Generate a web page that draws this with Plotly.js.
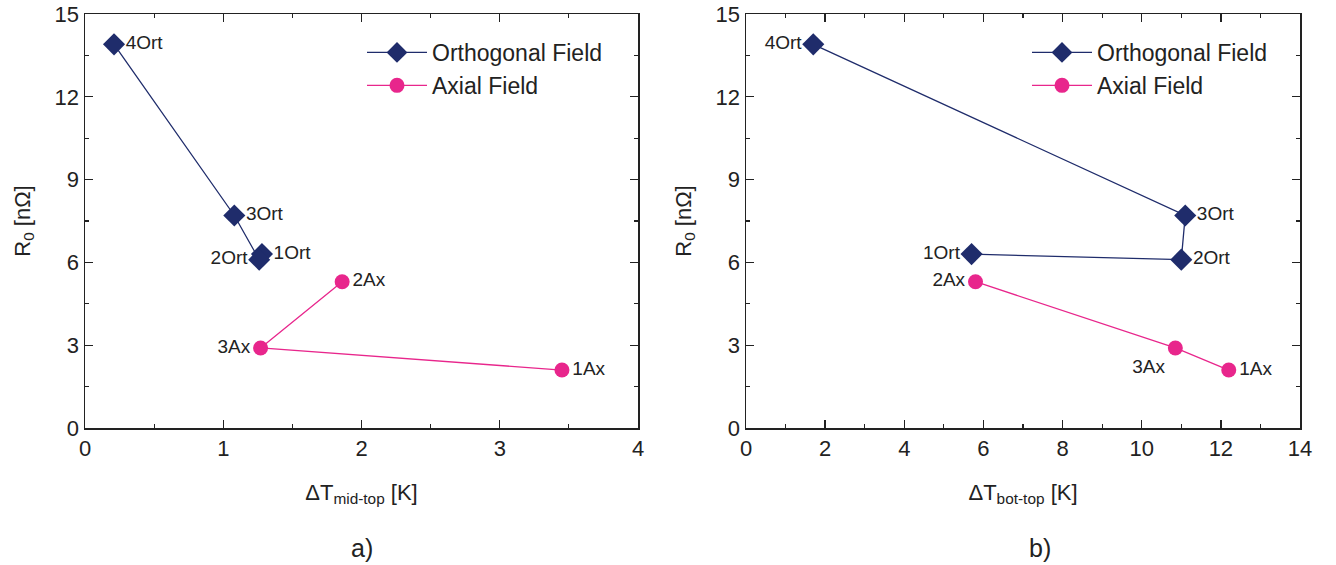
<!DOCTYPE html>
<html><head><meta charset="utf-8">
<script src="https://cdn.plot.ly/plotly-3.0.1.min.js"></script>
<style>body{margin:0;background:#fff}#c{width:1336px;height:565px}</style>
</head><body><div id="c"></div>
<script>
// Panel a) ΔT mid-top
const ortLabels = ['1Ort','2Ort','3Ort','4Ort'];
const ortXa = [1.28, 1.26, 1.08, 0.21];
const ortY  = [6.3, 6.1, 7.7, 13.9];
const axLabels = ['1Ax','3Ax','2Ax'];
const axXa = [3.45, 1.27, 1.86];
const axY  = [2.1, 2.9, 5.3];
// Panel b) ΔT bot-top
const ortXb = [5.7, 11.0, 11.1, 1.7];
const axXb  = [12.2, 10.85, 5.8];

const NAVY = '#1f2c6b', PINK = '#e8268c';
const F = 'Liberation Sans, Arial, sans-serif';
const TC = '#222';

const traces = [
  {x: ortXa, y: ortY, text: ortLabels, name: 'Orthogonal Field', mode: 'lines+markers+text',
   textposition: ['middle right','middle left','middle right','middle right'],
   line: {color: NAVY, width: 1.3}, marker: {symbol: 'diamond', size: 17, color: NAVY},
   textfont: {size: 19, color: TC, family: F}, xaxis: 'x', yaxis: 'y', legend: 'legend'},
  {x: axXa, y: axY, text: axLabels, name: 'Axial Field', mode: 'lines+markers+text',
   textposition: ['middle right','middle left','middle right'],
   line: {color: PINK, width: 1.3}, marker: {symbol: 'circle', size: 15, color: PINK},
   textfont: {size: 19, color: TC, family: F}, xaxis: 'x', yaxis: 'y', legend: 'legend'},
  {x: ortXb, y: ortY, text: ortLabels, name: 'Orthogonal Field', mode: 'lines+markers+text',
   textposition: ['middle left','middle right','middle right','middle left'],
   line: {color: NAVY, width: 1.3}, marker: {symbol: 'diamond', size: 17, color: NAVY},
   textfont: {size: 19, color: TC, family: F}, xaxis: 'x2', yaxis: 'y2', legend: 'legend2'},
  {x: axXb, y: axY, text: axLabels, name: 'Axial Field', mode: 'lines+markers+text',
   textposition: ['middle right','bottom left','middle left'],
   line: {color: PINK, width: 1.3}, marker: {symbol: 'circle', size: 15, color: PINK},
   textfont: {size: 19, color: TC, family: F}, xaxis: 'x2', yaxis: 'y2', legend: 'legend2'}
];

function xax(dom, range, dt, title, anchor) {
  return {domain: dom, range: range, dtick: dt, tick0: 0, anchor: anchor,
    showline: true, mirror: 'allticks', linecolor: TC, linewidth: 1.5,
    ticks: 'inside', ticklen: 8, tickwidth: 1.3, tickcolor: TC,
    minor: {ticks: 'inside', ticklen: 4, dtick: dt/2, tickwidth: 1.2, tickcolor: TC},
    showgrid: false, zeroline: false,
    tickfont: {size: 22, family: F, color: TC},
    title: {text: title, font: {size: 22, family: F, color: TC}, standoff: 24}};
}
function yax(dom, anchor) {
  return {domain: dom, range: [0, 15], dtick: 3, tick0: 0, anchor: anchor,
    showline: true, mirror: 'allticks', linecolor: TC, linewidth: 1.5,
    ticks: 'inside', ticklen: 8, tickwidth: 1.3, tickcolor: TC,
    minor: {ticks: 'inside', ticklen: 4, dtick: 1.5, tickwidth: 1.2, tickcolor: TC},
    showgrid: false, zeroline: false,
    tickfont: {size: 22, family: F, color: TC},
    title: {text: 'R<sub>0</sub> [nΩ]', font: {size: 22, family: F, color: TC}, standoff: 18}};
}

const layout = {
  width: 1336, height: 565, paper_bgcolor: '#fff', plot_bgcolor: '#fff',
  margin: {l: 0, r: 0, t: 14, b: 137},
  showlegend: true,
  xaxis: xax([85/1336, 638/1336], [0, 4], 1, 'ΔT<sub>mid-top</sub> [K]', 'y'),
  yaxis: yax([0, 1], 'x'),
  xaxis2: xax([746/1336, 1300/1336], [0, 14], 2, 'ΔT<sub>bot-top</sub> [K]', 'y2'),
  yaxis2: yax([0, 1], 'x2'),
  legend: {x: 362/1336, y: (428-31)/414, xanchor: 'left', yanchor: 'top', bgcolor: 'rgba(0,0,0,0)',
    font: {size: 23, family: F, color: TC}, tracegroupgap: 0, itemwidth: 60},
  legend2: {x: 1027/1336, y: (428-31)/414, xanchor: 'left', yanchor: 'top', bgcolor: 'rgba(0,0,0,0)',
    font: {size: 23, family: F, color: TC}, tracegroupgap: 0, itemwidth: 60},
  annotations: [
    {text: 'a)', x: 362/1336, y: (428-548)/414, xref: 'paper', yref: 'paper', showarrow: false,
     xanchor: 'center', yanchor: 'middle', font: {size: 25, family: F, color: TC}},
    {text: 'b)', x: 1040/1336, y: (428-548)/414, xref: 'paper', yref: 'paper', showarrow: false,
     xanchor: 'center', yanchor: 'middle', font: {size: 25, family: F, color: TC}}
  ]
};
Plotly.newPlot('c', traces, layout, {displayModeBar: false, staticPlot: true});
</script></body></html>
